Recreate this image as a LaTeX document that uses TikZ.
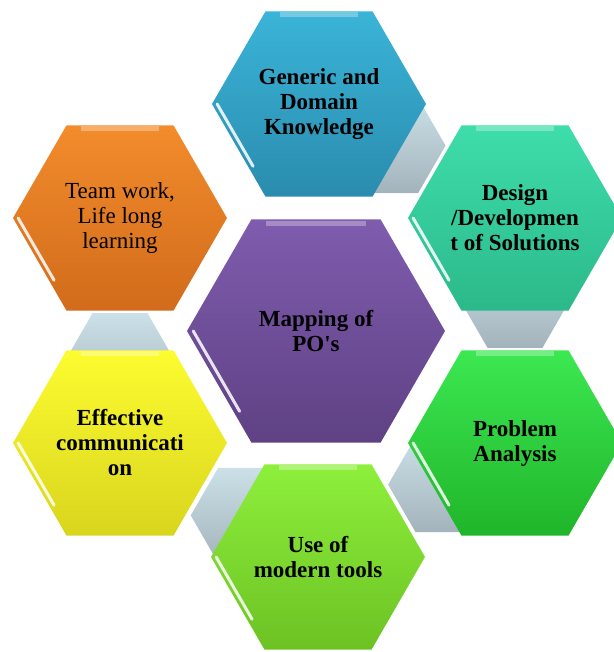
\documentclass[tikz,border=0pt]{standalone}
\usepackage{fontspec}
\setmainfont{Liberation Serif}[Ligatures=TeXOff]
\usetikzlibrary{shapes.geometric,calc,backgrounds}

\definecolor{genTop}{HTML}{3AB4D8} \definecolor{genBot}{HTML}{2A8CAE}
\definecolor{desTop}{HTML}{3EDDAA} \definecolor{desBot}{HTML}{2CB98A}
\definecolor{proTop}{HTML}{3CE852} \definecolor{proBot}{HTML}{20B52A}
\definecolor{useTop}{HTML}{8EEF3C} \definecolor{useBot}{HTML}{6CC223}
\definecolor{effTop}{HTML}{FCFC30} \definecolor{effBot}{HTML}{D9D51E}
\definecolor{teaTop}{HTML}{F28C2C} \definecolor{teaBot}{HTML}{D26B1B}
\definecolor{mapTop}{HTML}{7F5CAE} \definecolor{mapBot}{HTML}{5F4184}
\definecolor{conTop}{HTML}{CBE0E8} \definecolor{conBot}{HTML}{A3B3BB}

\tikzset{
  hexa/.style={regular polygon, regular polygon sides=6, minimum size=214pt,
    inner sep=0pt},
  hexshade/.style={top color=#1Top, bottom color=#1Bot},
  txtbold/.style={font=\fontsize{23}{25}\selectfont\bfseries, align=center, text=black},
  txtplain/.style={font=\fontsize{23}{25}\selectfont, align=center, text=black},
  linkhex/.style={regular polygon, regular polygon sides=6, minimum size=110pt,
    inner sep=0pt, top color=conTop, bottom color=conBot},
  glint/.style={white, line width=3pt, opacity=0.85, line cap=round, shorten >=30pt},
  sheen/.style={white, line width=5pt, opacity=0.3, shorten >=12pt, shorten <=12pt}
}

\begin{document}
\begin{tikzpicture}[x=1pt,y=-1pt]
    \useasboundingbox (0,0) rectangle (613,652);
      \def \Hexes {
        generic/319/104/gen/txtbold/{Generic and\\Domain\\Knowledge},
        design/515/218/des/txtbold/{Design\\/Developmen\\t of Solutions},
        problem/515/443/pro/txtbold/{Problem\\Analysis},
        tools/318/557/use/txtbold/{Use of\\modern tools},
        comm/120/443/eff/txtbold/{Effective\\communicati\\on},
        team/120/218/tea/txtplain/{Team work,\\Life long\\learning}}
      \def \Links {
        generic/design,
        design/problem,
        problem/tools,
        tools/comm,
        comm/team}

      \foreach \id / \x / \y / \col / \fnt / \txt in \Hexes {
        \node[hexa, hexshade=\col] (\id) at (\x, \y) {};
        \draw[glint] ($(\id.180)!0.05!(\id.center)$) -- ($(\id.240)!0.05!(\id.center)$);
        \draw[sheen] ($(\id.120)!0.04!(\id.center)$) -- ($(\id.60)!0.04!(\id.center)$);
        \node[\fnt] (\id-text) at (\id) {\txt};
      }
      \node[hexa, minimum size=258pt, hexshade=map] (mapping) at (316, 331) {};
      \draw[glint] ($(mapping.180)!0.05!(mapping.center)$) -- ($(mapping.240)!0.05!(mapping.center)$);
      \draw[sheen] ($(mapping.120)!0.04!(mapping.center)$) -- ($(mapping.60)!0.04!(mapping.center)$);
      \node[txtbold] (mapping-text) at (mapping) {Mapping of\\PO's};

      % grey links behind the ring
      \begin{scope}[on background layer]
        \foreach \a / \b in \Links {
          \node[linkhex] (\a-\b) at ($(\a)!0.365!(\b)$) {};
        }
      \end{scope}
    \end{tikzpicture}
\end{document}
